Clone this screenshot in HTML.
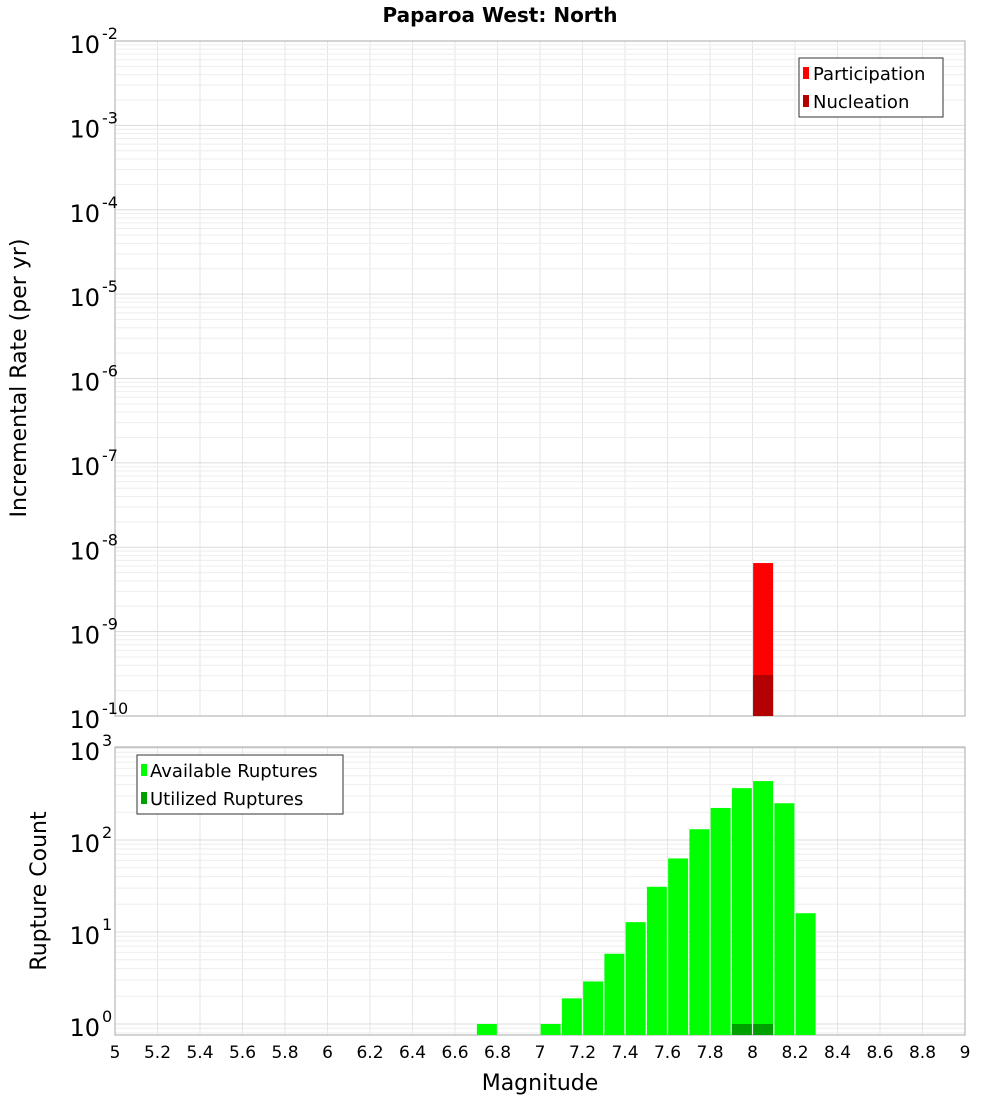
<!DOCTYPE html>
<html><head><meta charset="utf-8">
<style>
body{margin:0;background:#fff;font-family:"DejaVu Sans","Liberation Sans",sans-serif;}
svg text{font-family:"DejaVu Sans","Liberation Sans",sans-serif;}
</style></head>
<body>
<svg id="chart" width="1000" height="1100" xmlns="http://www.w3.org/2000/svg">
<text x="500" y="22" text-anchor="middle" font-size="20" font-weight="bold">Paparoa West: North</text>
<g id="top"></g>
<g id="bot"></g>
<g>
<rect x="799" y="58" width="144" height="59" fill="#fff" stroke="#333"/>
<rect x="803" y="67" width="6" height="12" fill="#ff0000"/>
<text x="813" y="80" font-size="18">Participation</text>
<rect x="803" y="95" width="6" height="12" fill="#b30000"/>
<text x="813" y="108" font-size="18">Nucleation</text>
</g>
<g>
<rect x="137" y="755" width="206" height="59" fill="#fff" stroke="#333"/>
<rect x="141" y="764" width="6" height="12" fill="#00ff00"/>
<text x="150" y="777" font-size="18">Available Ruptures</text>
<rect x="141" y="792" width="6" height="12" fill="#00a000"/>
<text x="150" y="805" font-size="18">Utilized Ruptures</text>
</g>
<text transform="translate(26,378) rotate(-90)" text-anchor="middle" font-size="22">Incremental Rate (per yr)</text>
<text transform="translate(46,891) rotate(-90)" text-anchor="middle" font-size="22">Rupture Count</text>
<text x="540" y="1090" text-anchor="middle" font-size="22">Magnitude</text>
</svg>
<script>
const partMags=[8.05];
const partRates=[6.5e-9];
const nuclMags=[8.05];
const nuclRates=[3.06e-10];
const availMags=[6.75,7.05,7.15,7.25,7.35,7.45,7.55,7.65,7.75,7.85,7.95,8.05,8.15,8.25];
const availCounts=[1,1,1.9,2.9,5.8,12.8,31,63,131,223,366,437,251,16];
const usedMags=[7.95,8.05];
const usedCounts=[1,1];
const xTicks=[5,5.2,5.4,5.6,5.8,6,6.2,6.4,6.6,6.8,7,7.2,7.4,7.6,7.8,8,8.2,8.4,8.6,8.8,9];
const topExps=[-2,-3,-4,-5,-6,-7,-8,-9,-10];
const botExps=[3,2,1,0];

const NS="http://www.w3.org/2000/svg";
const X0=115,X1=965;
const xs=m=>X0+(m-5)/4*(X1-X0);
function mk(p,tag,a){const e=document.createElementNS(NS,tag);for(const k in a)e.setAttribute(k,a[k]);p.appendChild(e);return e;}
const yTop=v=>41+(-2-Math.log10(v))*(675/8);
const yBot=v=>1024-92*Math.log10(v);

function panel(g,top,bot,yf,lo,hi,name){
  // grid
  for(let m=5;m<=9.001;m+=0.2){const l=mk(g,'line',{x1:xs(m),x2:xs(m),y1:top,y2:bot,stroke:'#e6e6e6'});}
  for(let e=lo;e<=hi;e++){for(let k=1;k<10;k++){const y=yf(k*Math.pow(10,e));if(y>=top&&y<=bot)mk(g,'line',{x1:X0,x2:X1,y1:y,y2:y,stroke:k==1?'#dcdcdc':'#eeeeee'});}}
  const r=mk(g,'rect',{x:X0,y:top,width:X1-X0,height:bot-top,fill:'none',stroke:'#aaa'});
  
  
}
const gt=document.getElementById('top'),gb=document.getElementById('bot');
panel(gt,41,716,yTop,-10,-2,'top');
panel(gb,747,1035,yBot,-1,3,'bottom');

function bars(g,mags,vals,yf,base,color,name){
  mags.forEach((m,i)=>{
    const y=Math.max(yf(vals[i]),0);
    const b=mk(g,'rect',{x:xs(m-0.047),y:y,width:xs(m+0.047)-xs(m-0.047),height:Math.max(base-y,0),fill:color});
    
    
  });
}
bars(gt,partMags,partRates,yTop,716,'#ff0000','participation-bar');
bars(gt,nuclMags,nuclRates,yTop,716,'#b30000','nucleation-bar');
bars(gb,availMags,availCounts,yBot,1035,'#00ff00','available-bar');
bars(gb,usedMags,usedCounts,yBot,1035,'#00a000','utilized-bar');

topExps.forEach(e=>{
  const y=yTop(Math.pow(10,e));
  const t=mk(gt,'text',{x:100,y:y+12,'text-anchor':'end','font-size':24});
  
  
  t.textContent='10';
  const s=mk(gt,'text',{x:102,y:y-2,'font-size':16});
  s.textContent=String(e);
});
botExps.forEach(e=>{
  const y=yBot(Math.pow(10,e));
  const t=mk(gb,'text',{x:100,y:y+12,'text-anchor':'end','font-size':24});
  
  
  t.textContent='10';
  const s=mk(gb,'text',{x:102,y:y-2,'font-size':16});
  s.textContent=String(e);
});
xTicks.forEach(m=>{
  const t=mk(gb,'text',{x:xs(m),y:1058,'text-anchor':'middle','font-size':17});
  
  
  t.textContent=String(m);
});
</script>
</body></html>
